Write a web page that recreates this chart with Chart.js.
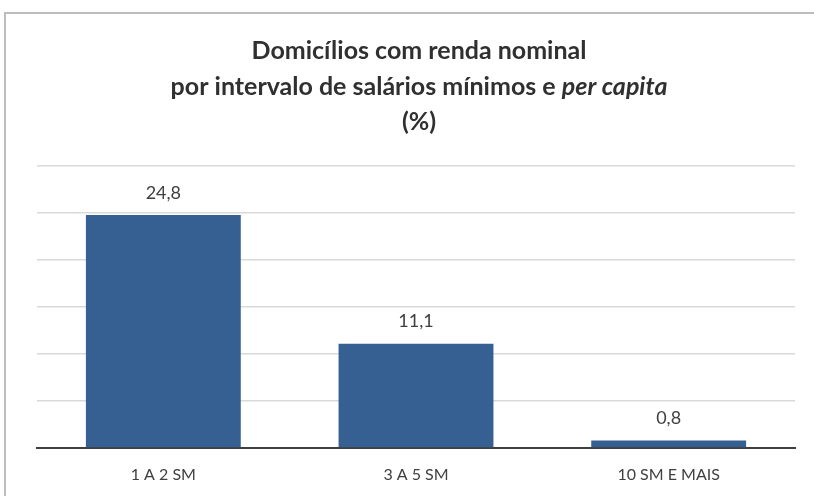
<!DOCTYPE html>
<html>
<head>
<meta charset="utf-8">
<script src="https://cdn.jsdelivr.net/npm/chart.js@4/dist/chart.umd.min.js"></script>
<style>
  html, body { margin: 0; padding: 0; background: #fff; overflow: hidden; }
  #wrap { width: 814px; height: 496px; position: relative; }
  canvas { display: block; }
</style>
</head>
<body>
<div id="wrap"><canvas id="chart" width="814" height="496"></canvas></div>
<script>
// chart data
const categories = ['1 A 2 SM', '3 A 5 SM', '10 SM E MAIS'];
const values = [24.8, 11.1, 0.8];
const yTicks = [0, 5, 10, 15, 20, 25, 30];

// title: each line is a list of [text, italic]
const titleLines = [
    [['Domicílios com renda nominal', false]],
    [['por intervalo de salários mínimos e ', false], ['per capita', true]],
    [['(%)', false]]
];

const FONT = 'Lato, "Open Sans", sans-serif';
const textColor = '#404040';

// border of the chart box + rich title
const framePlugin = {
    id: 'frame',
    beforeDraw(chart) {
        const ctx = chart.ctx;
        ctx.save();
        ctx.strokeStyle = '#bdbdbd';
        ctx.lineWidth = 2;
        ctx.strokeRect(5, 13, 900, 600);
        ctx.restore();
    },
    afterDraw(chart) {
        const ctx = chart.ctx;
        ctx.save();
        ctx.fillStyle = '#303030';
        ctx.textBaseline = 'middle';
        const cx = 419;
        const ys = [51, 87, 122];
        titleLines.forEach((line, i) => {
            let total = 0;
            line.forEach(([t, it]) => {
                ctx.font = (it ? 'italic ' : '') + 'bold 25px ' + FONT;
                total += ctx.measureText(t).width;
            });
            let x = cx - total / 2;
            line.forEach(([t, it]) => {
                ctx.font = (it ? 'italic ' : '') + 'bold 25px ' + FONT;
                ctx.textAlign = 'left';
                ctx.fillText(t, x, ys[i]);
                x += ctx.measureText(t).width;
            });
        });
        ctx.restore();
    }
};

// value labels above bars
const valueLabels = {
    id: 'valueLabels',
    afterDatasetsDraw(chart) {
        const ctx = chart.ctx;
        const meta = chart.getDatasetMeta(0);
        ctx.save();
        ctx.fillStyle = textColor;
        ctx.font = '18px ' + FONT;
        ctx.textAlign = 'center';
        ctx.textBaseline = 'middle';
        meta.data.forEach((bar, i) => {
            ctx.fillText(values[i].toFixed(1).replace('.', ','), bar.x, bar.y - 22);
        });
        ctx.restore();
    }
};

const ctx = document.getElementById('chart').getContext('2d');
new Chart(ctx, {
    type: 'bar',
    data: {
        labels: categories,
        datasets: [{
            data: values,
            backgroundColor: '#376092',
            barPercentage: 0.613,
            categoryPercentage: 1.0
        }]
    },
    options: {
        responsive: false,
        animation: false,
        layout: { padding: { left: 37, right: 19, top: 166, bottom: 0 } },
        plugins: {
            legend: { display: false },
            title: { display: false },
            tooltip: { enabled: false }
        },
        scales: {
            x: {
                grid: { display: false, drawTicks: false },
                border: { display: true, color: '#3f3f3f', width: 2 },
                ticks: { color: textColor, font: { family: FONT, size: 16 }, padding: 17 },
                afterFit(scale) { scale.height = 48; }
            },
            y: {
                min: 0,
                max: 30,
                afterBuildTicks(scale) { scale.ticks = yTicks.map(v => ({ value: v })); },
                ticks: { display: false },
                grid: {
                    drawTicks: false,
                    color: c => c.tick && c.tick.value === 0 ? 'rgba(0,0,0,0)' : '#d9d9d9',
                    lineWidth: 1.5
                },
                border: { display: false },
                afterFit(scale) { scale.width = 0; }
            }
        }
    },
    plugins: [framePlugin, valueLabels]
});
</script>
</body>
</html>
